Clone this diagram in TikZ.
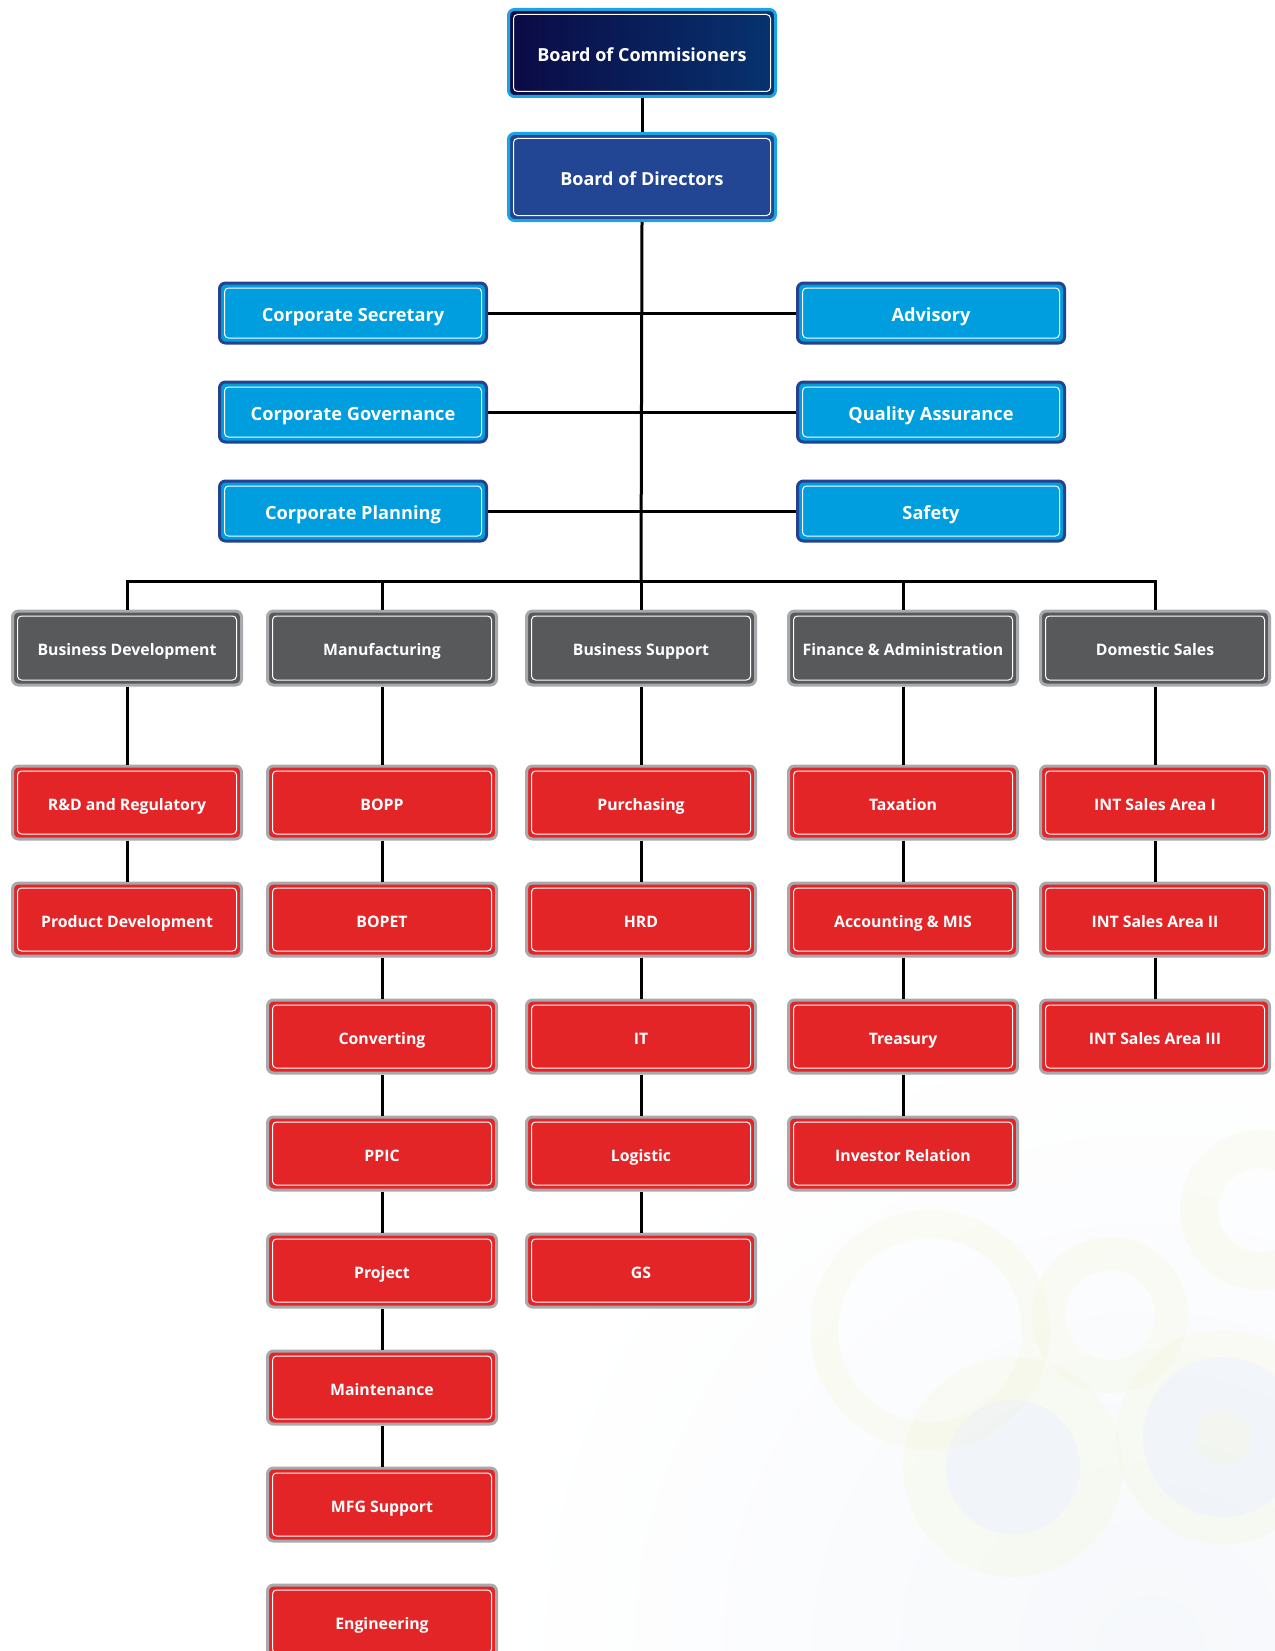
\documentclass[tikz,border=0pt]{standalone}
\usepackage{fontspec}
\setmainfont{Open Sans}
\usetikzlibrary{positioning}

\definecolor{navyleft}{HTML}{0B0A45}
\definecolor{navyright}{HTML}{07336F}
\definecolor{dirblue}{HTML}{234694}
\definecolor{skyrim}{HTML}{1CA3E3}
\definecolor{cyanfill}{HTML}{009DDF}
\definecolor{cyanrim}{HTML}{25428F}
\definecolor{greyfill}{HTML}{58595B}
\definecolor{greyrim}{HTML}{A7A9AC}
\definecolor{redfill}{HTML}{E32528}
\definecolor{ringyellow}{HTML}{F4F7DE}
\definecolor{ringblue}{HTML}{E2E9F3}

\tikzset{
  unit/.style={rounded corners=6pt, line width=3pt, text=white, align=center, inner sep=0pt,
    text depth=0pt,
    path picture={\draw[white, line width=1pt, rounded corners=4pt]
      ([shift={(5pt,-5pt)}]path picture bounding box.north west) rectangle
      ([shift={(-5pt,5pt)}]path picture bounding box.south east);}},
  board/.style={unit, draw=skyrim, minimum width=267pt, minimum height=87pt,
    text height=17pt, font=\bfseries\fontsize{18}{21}\selectfont},
  staff/.style={unit, draw=cyanrim, fill=cyanfill, minimum width=267pt, minimum height=60pt,
    text height=17pt, font=\bfseries\fontsize{18.2}{21}\selectfont},
  division/.style={unit, draw=greyrim, fill=greyfill, minimum width=229pt, minimum height=74pt,
    text height=15.5pt, font=\bfseries\fontsize{15.8}{18}\selectfont},
  dept/.style={unit, draw=greyrim, fill=redfill, minimum width=229pt, minimum height=73pt,
    text height=15.5pt, font=\bfseries\fontsize{15.8}{18}\selectfont},
  link/.style={line width=3pt, black}
}

\begin{document}
\begin{tikzpicture}[x=1pt, y=-1pt]
    \useasboundingbox (0,0) rectangle (1274,1651);

    % faint rings in the background
    \begin{scope}[opacity=0.32]
    \shade[inner color=ringblue, outer color=white] (1150,1651) circle (650pt);
    \fill[ringyellow, even odd rule] (930,1330) circle (120pt) circle (92pt);
    \fill[ringyellow, even odd rule] (1110,1315) circle (78pt) circle (45pt);
    \fill[ringyellow, even odd rule] (1260,1210) circle (80pt) circle (42pt);
    \fill[ringblue] (1013,1467) circle (67pt);
    \fill[ringyellow, even odd rule] (1013,1467) circle (110pt) circle (67pt);
    \fill[ringblue] (1223,1437) circle (80pt);
    \fill[ringyellow] (1223,1437) circle (28pt);
    \fill[ringyellow, even odd rule] (1223,1437) circle (107pt) circle (80pt);
    \end{scope}

    % boards
    \node [board, left color=navyleft, right color=navyright] (boc) at (642,53) {Board of Commisioners};
    \node [board, fill=dirblue] (bod) at (642,177) {Board of Directors};
    \coordinate (bus) at (641,581);

    % staff units
    \node [staff] (cs) at (353,313) {Corporate Secretary};
    \node [staff, below=36pt of cs] (cg) {Corporate Governance};
    \node [staff, below=36pt of cg] (cp) {Corporate Planning};
    \node [staff] (adv) at (931,313) {Advisory};
    \node [staff, below=36pt of adv] (qa) {Quality Assurance};
    \node [staff, below=36pt of qa] (saf) {Safety};

    % divisions
    \node [division] (bd) at (127,648) {Business Development};
    \node [division] (mf) at (382,648) {Manufacturing};
    \node [division] (bs) at (641,648) {Business Support};
    \node [division] (fa) at (903,648) {Finance \& Administration};
    \node [division] (ds) at (1155,648) {Domestic Sales};

    % departments
    \node [dept, below=78pt of bd] (rd) {R\&D and Regulatory};
    \node [dept, below=41pt of rd] (pd) {Product Development};

    \node [dept, below=78pt of mf] (bopp) {BOPP};
    \node [dept, below=41pt of bopp] (bopet) {BOPET};
    \node [dept, below=41pt of bopet] (conv) {Converting};
    \node [dept, below=41pt of conv] (ppic) {PPIC};
    \node [dept, below=41pt of ppic] (proj) {Project};
    \node [dept, below=41pt of proj] (maint) {Maintenance};
    \node [dept, below=41pt of maint] (mfgs) {MFG Support};
    \node [dept, below=41pt of mfgs] (eng) {Engineering};

    \node [dept, below=78pt of bs] (purch) {Purchasing};
    \node [dept, below=41pt of purch] (hrd) {HRD};
    \node [dept, below=41pt of hrd] (it) {IT};
    \node [dept, below=41pt of it] (logi) {Logistic};
    \node [dept, below=41pt of logi] (gs) {GS};

    \node [dept, below=78pt of fa] (tax) {Taxation};
    \node [dept, below=41pt of tax] (acc) {Accounting \& MIS};
    \node [dept, below=41pt of acc] (treas) {Treasury};
    \node [dept, below=41pt of treas] (inv) {Investor Relation};

    \node [dept, below=78pt of ds] (int1) {INT Sales Area I};
    \node [dept, below=41pt of int1] (int2) {INT Sales Area II};
    \node [dept, below=41pt of int2] (int3) {INT Sales Area III};

    % connectors
    \draw[link] (boc) -- (bod);
    \draw[link] (bod.south) -- (bus);
    \draw[link] (cs.east) -- (adv.west);
    \draw[link] (cg.east) -- (qa.west);
    \draw[link] (cp.east) -- (saf.west);
    \draw[link] (bd.north) |- (bus) -| (ds.north);
    \draw[link] (mf.north) -- (mf.north |- bus);
    \draw[link] (bs.north) -- (bus);
    \draw[link] (fa.north) -- (fa.north |- bus);
    \foreach \a/\b in {bd/rd, rd/pd, mf/bopp, bopp/bopet, bopet/conv, conv/ppic,
        ppic/proj, proj/maint, maint/mfgs, bs/purch, purch/hrd, hrd/it, it/logi,
        logi/gs, fa/tax, tax/acc, acc/treas, treas/inv, ds/int1, int1/int2, int2/int3}
        \draw[link] (\a.south) -- (\b.north);
\end{tikzpicture}
\end{document}
